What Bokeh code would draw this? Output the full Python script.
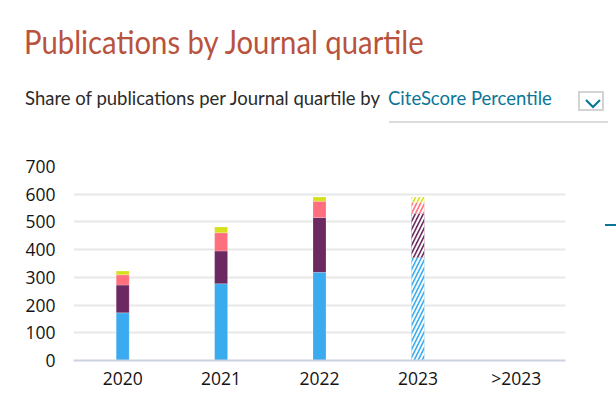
from bokeh.plotting import figure
from bokeh.models import ColumnDataSource, FactorRange, Range1d, FixedTicker, Div
from bokeh.layouts import column, row
from bokeh.embed import file_html
from bokeh.resources import INLINE

# ---- data ----
years = ["2020", "2021", "2022", "2023", ">2023"]
q1 = [172, 277, 318, 371, 0]
q2 = [100, 118, 198, 160, 0]
q3 = [37, 66, 59, 39, 0]
q4 = [14, 21, 15, 20, 0]
hatched = [False, False, False, True, False]
series = [q1, q2, q3, q4]
colors = ["#3aabef", "#6c2860", "#ff6f7e", "#d6e01c"]
y_ticks = [0, 100, 200, 300, 400, 500, 600, 700]

title_text = "Publications by Journal quartile"
sub_text = "Share of publications per Journal quartile by"
sub_link = "CiteScore Percentile"

HEADER_H = 130

p = figure(width=605, height=396 - HEADER_H, x_range=FactorRange(*years, range_padding=0),
           y_range=Range1d(0, 700), output_backend="svg", toolbar_location=None,
           min_border_left=73, min_border_right=40, min_border_top=166 - HEADER_H,
           min_border_bottom=36, title=None)

# build stacked bars
xs, bots, tops, cols, pats = [], [], [], [], []
for i, yr in enumerate(years):
    base = 0
    for s, c in zip(series, colors):
        v = s[i]
        if v <= 0:
            continue
        xs.append(yr)
        bots.append(base)
        tops.append(base + v)
        cols.append(c)
        pats.append("/" if hatched[i] else " ")
        base += v
src = ColumnDataSource(dict(x=xs, bottom=bots, top=tops, color=cols, pat=pats))
p.vbar(x="x", bottom="bottom", top="top", width=0.132, source=src,
       fill_color="color", line_color="white", line_alpha=0.2, line_width=1,
       hatch_pattern="pat", hatch_color="white", hatch_weight=2, hatch_scale=8)

# axes styling
p.outline_line_color = None
p.xgrid.grid_line_color = None
p.ygrid.grid_line_color = "#e8e8e8"
p.ygrid.grid_line_width = 2
p.yaxis.ticker = FixedTicker(ticks=y_ticks)
p.yaxis.axis_line_color = None
p.yaxis.major_tick_line_color = None
p.yaxis.minor_tick_line_color = None
p.yaxis.major_tick_out = 0
p.yaxis.major_label_standoff = 18
p.yaxis.major_label_text_font = "Open Sans"
p.yaxis.major_label_text_font_size = "17.5px"
p.yaxis.major_label_text_color = "#141414"
p.xaxis.axis_line_color = "#cdd2e2"
p.xaxis.axis_line_width = 2
p.xaxis.major_tick_line_color = None
p.xaxis.minor_tick_line_color = None
p.xaxis.major_tick_out = 0
p.xaxis.major_label_standoff = 5
p.xaxis.major_label_text_font = "Open Sans"
p.xaxis.major_label_text_font_size = "17.5px"
p.xaxis.major_label_text_color = "#141414"

# header as HTML
chev = ('<svg width="16" height="10" viewBox="0 0 16 10" style="position:absolute;left:585px;top:99px">'
        '<polyline points="1,1 8,8 15,1" fill="none" stroke="#0b7697" stroke-width="2.2"/></svg>')
header_html = f"""
<div style="position:relative;width:616px;height:{HEADER_H}px;margin:0;padding:0;">
  <span style="position:absolute;left:24px;top:26px;font-family:Lato;font-size:32px;line-height:32px;color:#b8533d;white-space:nowrap;transform:scaleX(0.915);transform-origin:0 0;">{title_text}</span>
  <span style="position:absolute;left:25px;top:88.6px;font-family:Lato;font-size:18.5px;line-height:18.5px;color:#2b2b2b;white-space:nowrap;">{sub_text}</span>
  <span style="position:absolute;left:388px;top:88.6px;font-family:Lato;font-size:18.5px;line-height:18.5px;color:#0b7697;white-space:nowrap;">{sub_link}</span>
  <div style="position:absolute;left:578px;top:91px;width:26px;height:20px;border:2px solid #d3d3d3;"></div>
  {chev}
  <div style="position:absolute;left:389px;top:121px;width:219px;height:2px;background:#dcdcdc;"></div>
</div>
"""
header = Div(text=header_html, width=616, height=HEADER_H, margin=0)

dash = Div(text='<div style="position:relative;width:11px;height:200px;">'
                '<div style="position:absolute;left:0px;top:94px;width:11px;height:2px;background:#0b7697;"></div></div>',
           width=11, height=200, margin=0)

layout = column(header, row(p, dash, spacing=0), spacing=0)
open("out.html", "w").write(file_html(layout, INLINE))
